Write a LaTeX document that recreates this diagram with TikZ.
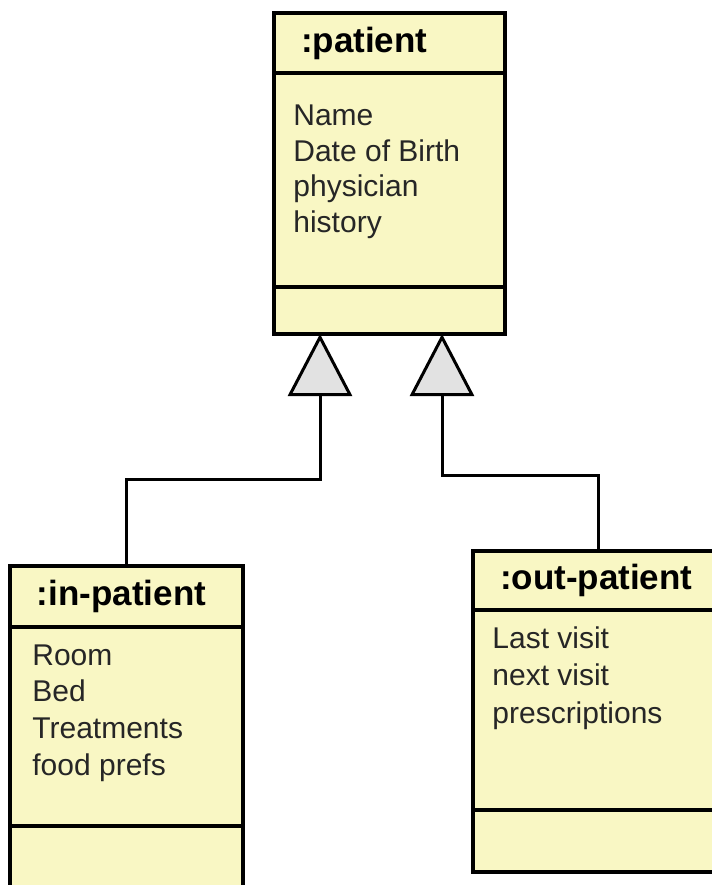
\documentclass[tikz,border=0pt]{standalone}
\usepackage{fontspec}
\setmainfont{Liberation Sans}
\usetikzlibrary{arrows.meta, positioning}
\definecolor{classfill}{HTML}{F9F7C4}
\definecolor{tipfill}{HTML}{E2E2E2}
\tikzstyle{classhead} = [rectangle, anchor=north west, draw=black, line width=1.8pt, fill=classfill, outer sep=0pt, inner xsep=13.5pt, minimum height=30pt, align=left, font=\fontsize{17.5}{21}\selectfont\bfseries]
\tikzstyle{compart} = [rectangle, draw=black, line width=1.8pt, fill=classfill, outer sep=0pt]
\tikzstyle{attrs} = [anchor=base west, inner sep=0pt, align=left, text=black!85, font=\fontsize{15}{18}\selectfont]
\tikzstyle{inherit} = [line width=1.5pt, -{Triangle[length=31pt, width=32pt, fill=tipfill]}]

\begin{document}
\begin{tikzpicture}[x=0.5pt, y=-0.5pt]
\useasboundingbox (0,0) rectangle (712,885);

% Nodes
\node (pathead) [classhead, text width=88.5pt] at (274,13) {:patient};
\node (patattr) [compart, minimum width=115.5pt, minimum height=107pt, below=0pt of pathead] {};
\node (patops) [compart, minimum width=115.5pt, minimum height=23.5pt, below=0pt of patattr] {};
\node (pattext) [attrs, font=\fontsize{15}{17.7}\selectfont] at (293,232) {Name\\Date of Birth\\physician\\history};

\node (inphead) [classhead, text width=89.5pt, minimum height=30.5pt] at (10,566) {:in-patient};
\node (inpattr) [compart, minimum width=116.5pt, minimum height=99.5pt, below=0pt of inphead] {};
\node (inpops) [compart, minimum width=116.5pt, minimum height=50pt, below=0pt of inpattr] {};
\node (inptext) [attrs, font=\fontsize{15}{18.3}\selectfont] at (32,775) {Room\\Bed\\Treatments\\food prefs};

\node (outphead) [classhead, text width=98pt, minimum height=29.5pt] at (473,551) {:out-patient};
\node (outpattr) [compart, minimum width=125pt, minimum height=100pt, below=0pt of outphead] {};
\node (outpops) [compart, minimum width=125pt, minimum height=31pt, below=0pt of outpattr] {};
\node (outptext) [attrs, font=\fontsize{15}{18.7}\selectfont] at (492,723) {Last visit\\next visit\\prescriptions};

\coordinate (lbend) at (320,479);
\coordinate (rbend) at (442,475);

% Arrows
\draw [inherit] (inphead.north) |- (lbend) -- (lbend |- patops.south);
\draw [inherit] (outphead.north) |- (rbend) -- (rbend |- patops.south);

\end{tikzpicture}
\end{document}
